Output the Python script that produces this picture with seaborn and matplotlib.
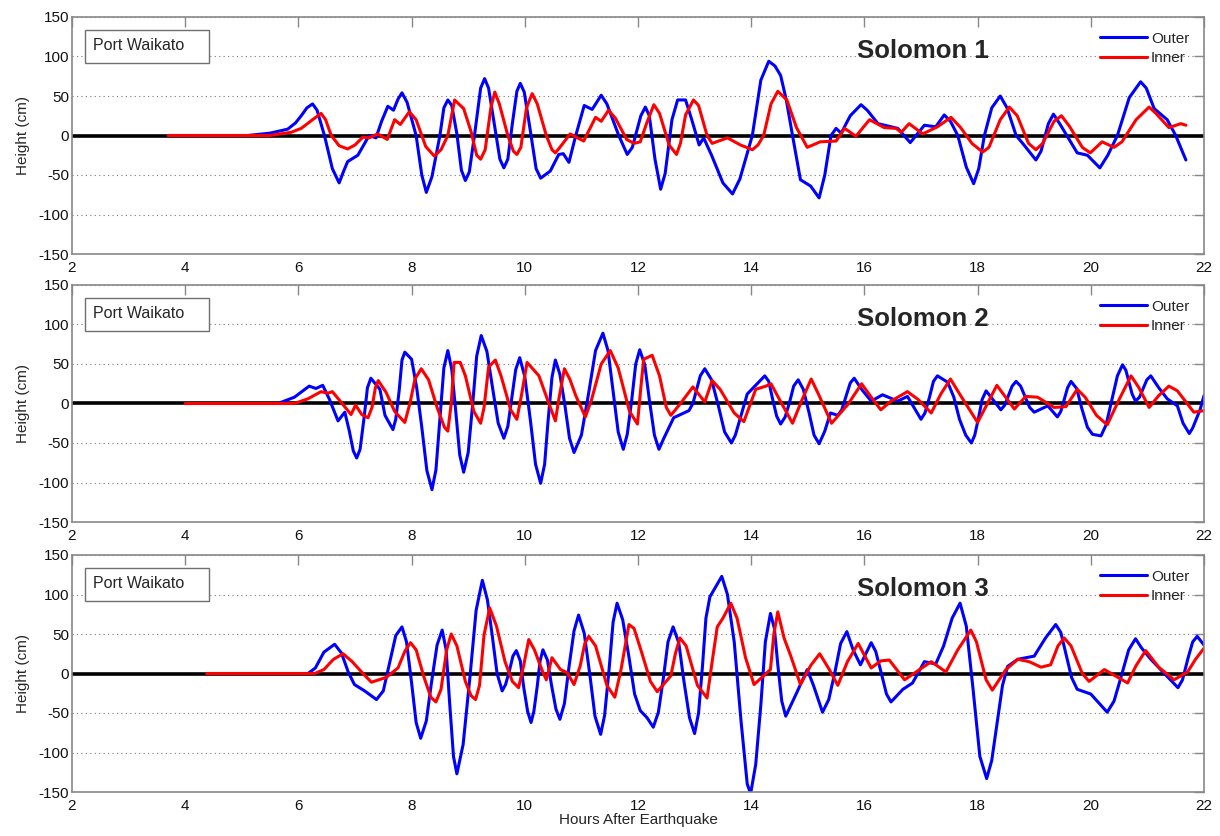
import pandas as pd
import matplotlib
matplotlib.use("Agg")
import matplotlib.pyplot as plt
import seaborn as sns
from matplotlib.patches import Rectangle

# Values: (hours after earthquake, height in cm)
s1_outer = [(3.7, 0), (5.1, 0), (5.5, 3), (5.81, 8), (5.95, 16), (6.05, 25), (6.15, 35), (6.25, 40), (6.33, 32), (6.46, 0),
            (6.6, -42), (6.72, -60), (6.8, -45), (6.87, -33), (7.05, -25), (7.25, 0), (7.37, -3), (7.47, 18), (7.58, 37),
            (7.68, 32), (7.76, 46), (7.83, 54), (7.92, 42), (8.08, 0), (8.18, -50), (8.26, -72), (8.36, -52), (8.5, 0),
            (8.57, 35), (8.64, 45), (8.71, 38), (8.8, 2), (8.88, -44), (8.95, -57), (9.02, -46), (9.12, 5), (9.22, 60),
            (9.29, 72), (9.36, 60), (9.46, 15), (9.56, -30), (9.63, -41), (9.7, -30), (9.78, 15), (9.86, 56), (9.92, 66),
            (9.99, 55), (10.1, 5), (10.2, -42), (10.28, -54), (10.45, -45), (10.6, -24), (10.68, -23), (10.78, -34),
            (10.9, 0), (11.05, 38), (11.19, 33), (11.35, 51), (11.45, 40), (11.66, 0), (11.81, -24), (11.9, -15),
            (12.05, 25), (12.13, 36), (12.2, 25), (12.3, -30), (12.4, -68), (12.48, -48), (12.6, 20), (12.7, 45),
            (12.84, 45), (12.95, 20), (13.08, -12), (13.16, -3), (13.3, -25), (13.5, -60), (13.67, -74), (13.8, -55),
            (14.02, 0), (14.17, 70), (14.31, 94), (14.42, 88), (14.52, 76), (14.62, 45), (14.73, 0), (14.87, -56),
            (15.05, -64), (15.2, -79), (15.3, -50), (15.41, 0), (15.5, 9), (15.59, 3), (15.75, 25), (15.94, 39),
            (16.05, 32), (16.24, 15), (16.59, 9), (16.81, -9), (17.06, 13), (17.26, 11), (17.41, 26), (17.52, 18),
            (17.65, 0), (17.8, -40), (17.93, -61), (18.02, -42), (18.12, 0), (18.25, 35), (18.4, 50), (18.52, 35),
            (18.68, 0), (18.82, -12), (19.03, -31), (19.12, -20), (19.25, 15), (19.34, 27), (19.45, 15), (19.76, -22),
            (19.94, -25), (20.16, -41), (20.3, -25), (20.47, 0), (20.68, 48), (20.88, 68), (20.98, 60), (21.12, 34),
            (21.35, 20), (21.5, 0), (21.68, -31)]
s1_inner = [(3.7, 0), (5.5, 0), (5.87, 4), (6.05, 9), (6.25, 20), (6.4, 28), (6.48, 20), (6.58, 0), (6.72, -13),
            (6.87, -17), (7.0, -12), (7.14, -2), (7.25, -3), (7.4, 2), (7.57, -5), (7.7, 20), (7.8, 14), (7.96, 30),
            (8.08, 20), (8.25, -14), (8.4, -26), (8.52, -18), (8.64, 0), (8.76, 45), (8.92, 34), (9.05, 5), (9.15, -25),
            (9.22, -30), (9.3, -18), (9.4, 35), (9.47, 55), (9.55, 40), (9.7, 0), (9.8, -20), (9.86, -24), (9.93, -15),
            (10.03, 35), (10.13, 53), (10.22, 40), (10.38, 0), (10.48, -18), (10.54, -22), (10.62, -15), (10.8, 2),
            (11.04, -7), (11.25, 23), (11.35, 18), (11.48, 32), (11.6, 22), (11.8, -5), (11.93, -10), (12.04, -8),
            (12.15, 15), (12.28, 39), (12.38, 28), (12.55, -12), (12.68, -24), (12.75, -10), (12.84, 26), (12.98, 45),
            (13.07, 38), (13.22, 0), (13.31, -10), (13.58, -3), (13.81, -12), (14.02, -18), (14.12, -12), (14.22, 0),
            (14.35, 40), (14.47, 56), (14.63, 45), (14.8, 10), (14.99, -15), (15.22, -8), (15.5, -7), (15.65, 9),
            (15.85, -1), (16.09, 20), (16.35, 10), (16.56, 9), (16.65, 4), (16.79, 15), (17.03, 2), (17.29, 11),
            (17.53, 23), (17.7, 10), (17.9, -10), (18.09, -21), (18.2, -15), (18.4, 20), (18.56, 36), (18.7, 25),
            (18.9, -10), (19.03, -18), (19.15, -10), (19.35, 18), (19.48, 25), (19.62, 12), (19.85, -15), (19.99, -22),
            (20.2, -8), (20.41, -15), (20.55, -8), (20.8, 20), (21.03, 36), (21.15, 28), (21.38, 10), (21.59, 15),
            (21.68, 13)]

s2_outer = [(4.0, 0), (5.64, 0), (5.93, 8), (6.19, 22), (6.31, 19), (6.43, 23), (6.55, 5), (6.7, -22), (6.82, -11),
            (6.9, -35), (6.97, -60), (7.03, -69), (7.09, -58), (7.16, -18), (7.22, 20), (7.28, 32), (7.44, 18),
            (7.53, -15), (7.67, -33), (7.72, -20), (7.78, 16), (7.83, 55), (7.88, 65), (8.0, 56), (8.09, 20),
            (8.18, -30), (8.27, -85), (8.36, -109), (8.43, -84), (8.5, -20), (8.57, 45), (8.64, 67), (8.71, 43),
            (8.78, -10), (8.85, -65), (8.92, -87), (9.0, -62), (9.08, 0), (9.15, 60), (9.23, 86), (9.33, 66), (9.43, 20),
            (9.53, -25), (9.63, -44), (9.7, -29), (9.77, 7), (9.84, 43), (9.91, 58), (10.0, 34), (10.1, -22),
            (10.19, -77), (10.28, -101), (10.35, -77), (10.41, -23), (10.48, 33), (10.54, 55), (10.62, 37), (10.71, -3),
            (10.79, -44), (10.87, -62), (11.0, -40), (11.13, 14), (11.25, 67), (11.38, 89), (11.47, 67), (11.56, 16),
            (11.65, -36), (11.74, -58), (11.81, -39), (11.89, 5), (11.96, 50), (12.03, 68), (12.12, 49), (12.2, 5),
            (12.29, -40), (12.37, -58), (12.45, -45), (12.63, -18), (12.9, -9), (12.97, 0), (13.1, 35), (13.18, 44),
            (13.3, 30), (13.42, -3), (13.53, -36), (13.65, -50), (13.72, -40), (13.93, 12), (14.24, 35), (14.31, 28),
            (14.38, 5), (14.45, -16), (14.52, -26), (14.6, -17), (14.68, 2), (14.75, 22), (14.83, 30), (14.92, 18),
            (15.02, -11), (15.11, -40), (15.2, -51), (15.3, -35), (15.4, -12), (15.53, -15), (15.6, -8), (15.68, 10),
            (15.75, 26), (15.82, 32), (15.95, 18), (16.12, 3), (16.32, 11), (16.59, 3), (16.76, 9), (17.0, -20),
            (17.07, -12), (17.15, 8), (17.22, 28), (17.29, 35), (17.47, 27), (17.58, 8), (17.68, -20), (17.79, -40),
            (17.89, -50), (17.95, -40), (18.02, -17), (18.08, 5), (18.15, 16), (18.41, -8), (18.48, -2), (18.61, 22),
            (18.68, 28), (18.76, 22), (18.92, -5), (19.0, -11), (19.24, -3), (19.41, -17), (19.47, -10), (19.59, 20),
            (19.65, 28), (19.75, 19), (19.84, -6), (19.94, -30), (20.03, -39), (20.18, -41), (20.27, -27), (20.37, 4),
            (20.47, 35), (20.56, 49), (20.62, 42), (20.73, 12), (20.79, 3), (20.86, 8), (20.99, 30), (21.06, 35),
            (21.2, 20), (21.35, 6), (21.53, -3), (21.63, -25), (21.74, -38), (21.8, -31), (21.93, -8), (22.0, 10)]
s2_inner = [(4.0, 0), (5.93, 0), (6.17, 6), (6.4, 15), (6.52, 13), (6.6, 15), (6.75, 2), (6.93, -14), (7.01, -2),
            (7.12, -14), (7.23, -18), (7.3, -5), (7.36, 20), (7.41, 29), (7.55, 14), (7.7, -10), (7.88, -24), (7.97, 0),
            (8.06, 31), (8.17, 44), (8.3, 30), (8.45, -5), (8.58, -30), (8.64, -35), (8.7, 0), (8.75, 52), (8.86, 52),
            (8.95, 35), (9.1, -10), (9.22, -25), (9.28, -5), (9.36, 46), (9.48, 55), (9.58, 35), (9.75, -8), (9.86, -20),
            (9.94, 10), (10.04, 52), (10.25, 35), (10.4, 5), (10.54, -22), (10.6, 5), (10.7, 44), (10.8, 30), (10.9, 10),
            (11.07, -17), (11.18, 5), (11.35, 50), (11.51, 67), (11.65, 45), (11.85, -10), (11.99, -26), (12.05, 20),
            (12.1, 56), (12.25, 61), (12.38, 35), (12.5, -5), (12.58, -15), (12.75, 0), (12.97, 21), (13.18, 2),
            (13.31, 29), (13.45, 18), (13.7, -12), (13.87, -23), (14.08, 18), (14.26, 22), (14.35, 25), (14.5, 5),
            (14.73, -25), (14.9, 5), (15.06, 31), (15.2, 10), (15.42, -25), (15.71, -1), (15.95, 25), (16.1, 10),
            (16.29, -8), (16.47, 3), (16.76, 15), (16.95, 5), (17.18, -12), (17.35, 12), (17.52, 31), (17.7, 10),
            (18.0, -24), (18.34, 23), (18.65, -7), (18.85, 9), (19.06, 8), (19.35, -5), (19.56, -4), (19.76, 18),
            (19.9, 8), (20.1, -15), (20.29, -27), (20.5, 5), (20.71, 35), (20.85, 20), (21.03, -5), (21.2, 10),
            (21.38, 22), (21.53, 16), (21.82, -11), (22.0, -9)]

s3_outer = [(4.38, 0), (6.17, 0), (6.3, 7), (6.45, 27), (6.64, 37), (6.76, 26), (6.88, 2), (6.99, -14), (7.17, -22),
            (7.38, -33), (7.5, -22), (7.6, 10), (7.72, 48), (7.83, 59), (7.91, 40), (8.0, -12), (8.08, -62), (8.16, -82),
            (8.26, -60), (8.35, -12), (8.45, 36), (8.54, 55), (8.61, 30), (8.67, -35), (8.74, -105), (8.8, -127),
            (8.91, -90), (9.03, -5), (9.14, 80), (9.25, 118), (9.34, 93), (9.43, 45), (9.51, 0), (9.6, -22), (9.66, -14),
            (9.73, 4), (9.79, 22), (9.85, 29), (9.92, 16), (9.98, -17), (10.05, -48), (10.11, -62), (10.16, -48),
            (10.22, -16), (10.27, 16), (10.32, 30), (10.4, 17), (10.47, -14), (10.55, -45), (10.62, -58), (10.7, -38),
            (10.78, 8), (10.87, 54), (10.95, 74), (11.05, 51), (11.15, -2), (11.24, -54), (11.34, -77), (11.41, -53),
            (11.49, 6), (11.56, 65), (11.63, 89), (11.73, 68), (11.84, 21), (11.94, -26), (12.04, -47), (12.16, -56),
            (12.27, -68), (12.36, -49), (12.45, -5), (12.53, 40), (12.62, 59), (12.72, 39), (12.81, -9), (12.91, -56),
            (13.0, -76), (13.07, -50), (13.14, 10), (13.2, 70), (13.27, 97), (13.48, 123), (13.58, 100), (13.7, 40),
            (13.82, -60), (13.93, -140), (13.99, -152), (14.08, -115), (14.17, -40), (14.25, 40), (14.34, 76),
            (14.41, 57), (14.47, 11), (14.54, -35), (14.61, -54), (14.8, -25), (14.99, 5), (15.1, -15), (15.26, -49),
            (15.37, -33), (15.48, 2), (15.58, 38), (15.69, 53), (15.8, 30), (15.93, 11), (16.12, 39), (16.2, 28),
            (16.3, 0), (16.39, -26), (16.47, -36), (16.68, -20), (16.85, -12), (17.06, 15), (17.26, 12), (17.4, 35),
            (17.55, 70), (17.69, 89), (17.8, 60), (17.92, -20), (18.04, -105), (18.16, -133), (18.25, -110),
            (18.35, -60), (18.44, -15), (18.53, 9), (18.71, 18), (19.0, 22), (19.2, 45), (19.38, 62), (19.47, 52),
            (19.57, 22), (19.66, -5), (19.76, -20), (20.0, -26), (20.29, -49), (20.41, -35), (20.54, -3), (20.67, 30),
            (20.79, 44), (20.9, 32), (21.06, 18), (21.3, 0), (21.54, -18), (21.62, -8), (21.72, 20), (21.8, 40),
            (21.88, 47), (22.0, 36)]
s3_inner = [(4.38, 0), (6.29, 0), (6.45, 5), (6.62, 18), (6.79, 25), (6.95, 15), (7.14, 0), (7.29, -11), (7.55, -5),
            (7.76, 7), (7.88, 28), (7.98, 39), (8.08, 30), (8.22, -5), (8.34, -30), (8.43, -36), (8.52, -20), (8.62, 30),
            (8.7, 50), (8.8, 35), (8.95, -10), (9.05, -28), (9.13, -33), (9.2, -15), (9.28, 49), (9.38, 83), (9.5, 60),
            (9.65, 15), (9.78, -10), (9.89, -18), (9.98, 10), (10.07, 43), (10.17, 30), (10.3, 5), (10.38, -8),
            (10.48, 20), (10.63, 5), (10.75, 1), (10.87, -14), (10.98, 10), (11.06, 38), (11.13, 47), (11.25, 35),
            (11.45, -15), (11.59, -30), (11.7, 5), (11.84, 62), (11.93, 57), (12.05, 30), (12.22, -10), (12.34, -23),
            (12.58, -3), (12.66, 25), (12.74, 45), (12.85, 35), (13.05, -15), (13.22, -31), (13.3, 10), (13.4, 59),
            (13.5, 70), (13.64, 89), (13.75, 70), (13.9, 20), (14.05, -14), (14.34, 5), (14.4, 50), (14.47, 78),
            (14.58, 45), (14.7, 22), (14.87, -14), (15.05, 10), (15.21, 25), (15.38, 5), (15.53, -15), (15.7, 15),
            (15.89, 38), (16.12, 7), (16.29, 16), (16.44, 17), (16.71, -8), (17.18, 15), (17.44, 2), (17.65, 30),
            (17.88, 55), (17.98, 40), (18.15, -8), (18.26, -21), (18.5, 5), (18.71, 18), (18.91, 15), (19.12, 8),
            (19.29, 11), (19.42, 35), (19.53, 45), (19.65, 35), (19.85, 0), (19.97, -10), (20.24, 5), (20.65, -12),
            (20.8, 10), (20.97, 29), (21.2, 8), (21.47, -8), (21.71, 2), (21.85, 18), (22.0, 32)]

events = ["Solomon 1", "Solomon 2", "Solomon 3"]
series = ["Outer", "Inner"]
station = "Port Waikato"
x_ticks = list(range(2, 23, 2))
y_ticks = list(range(-150, 151, 50))

data = {
    "Solomon 1": {"Outer": s1_outer, "Inner": s1_inner},
    "Solomon 2": {"Outer": s2_outer, "Inner": s2_inner},
    "Solomon 3": {"Outer": s3_outer, "Inner": s3_inner},
}

frames = []
for ev in events:
    for name in series:
        part = pd.DataFrame(data[ev][name], columns=["hours", "height"])
        part["event"] = ev
        part["series"] = name
        frames.append(part)
df = pd.concat(frames, ignore_index=True)

sns.set_style("white")
plt.rcParams["font.family"] = ["Liberation Sans", "DejaVu Sans"]
plt.rcParams["axes.unicode_minus"] = False

fig = plt.figure(figsize=(12.2, 8.36), dpi=100)
left, right = 72 / 1220, 1204 / 1220
panels = [(17, 254), (285, 522), (555, 792)]
palette = {"Outer": "#0000ff", "Inner": "#ff0000"}
spine_grey = "#888888"

for ev, (top_px, bot_px) in zip(events, panels):
    ax = fig.add_axes([left, 1 - bot_px / 836, right - left, (bot_px - top_px) / 836])
    ax.axhline(0, color="black", lw=2.6, zorder=1)
    sns.lineplot(data=df[df["event"] == ev], x="hours", y="height", hue="series",
                 hue_order=series, palette=palette, sort=False, estimator=None,
                 lw=2.2, solid_joinstyle="round", ax=ax, zorder=2)
    ax.set_xlim(2, 22)
    ax.set_ylim(-150, 150)
    ax.set_xticks(x_ticks)
    ax.set_yticks(y_ticks)
    ax.tick_params(direction="in", top=True, right=True, length=7.5, width=1.0,
                   color=spine_grey, labelsize=11, labelcolor="#111111", pad=2)
    ax.tick_params(axis="x", pad=5)
    for sp in ax.spines.values():
        sp.set_color(spine_grey)
        sp.set_linewidth(1.2)
    ax.yaxis.grid(True, linestyle=(0, (1, 3)), color="#777777", lw=0.8)
    ax.xaxis.grid(False)
    ax.set_ylabel("Height (cm)", fontsize=11, labelpad=6)
    ax.set_xlabel("")

    # station label box
    ax.add_patch(Rectangle((13 / 1132, (254 - 63) / 237), 124 / 1132, 33 / 237,
                           transform=ax.transAxes, facecolor="white",
                           edgecolor="#707070", lw=1.0, zorder=3))
    ax.text(21 / 1132, (254 - 46) / 237, station, transform=ax.transAxes,
            fontsize=11.5, va="center", ha="left", zorder=4)
    ax.text((857 - 72) / 1132, (254 - 51) / 237, ev, transform=ax.transAxes,
            fontsize=18.5, fontweight="bold", va="center", ha="left", zorder=4)

    handles, labels = ax.get_legend_handles_labels()
    ax.legend(handles, labels, loc="upper right", frameon=False, fontsize=11,
              handlelength=3.1, handletextpad=0.25, labelspacing=0.35,
              borderaxespad=0.65, borderpad=0.3)

ax.set_xlabel("Hours After Earthquake", fontsize=11, labelpad=0)

fig.savefig("out.png", dpi=100)
